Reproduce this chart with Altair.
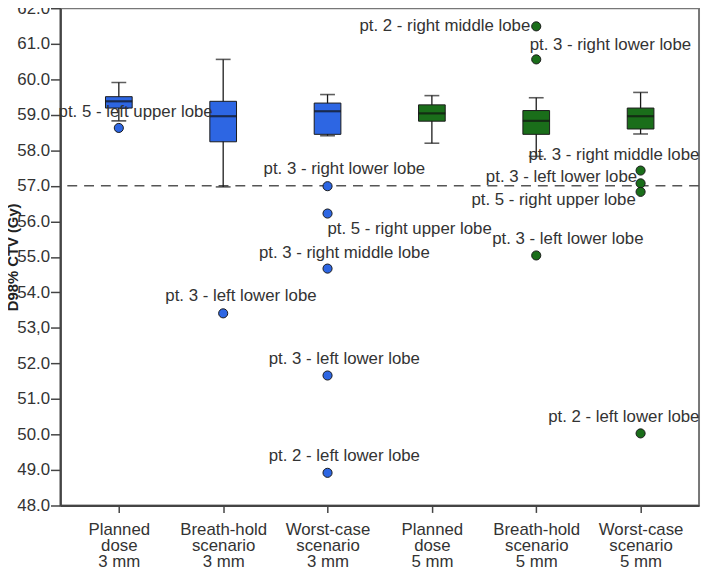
import altair as alt
import pandas as pd

# ---- data ----
categories = ["Planned\ndose\n3 mm", "Breath-hold\nscenario\n3 mm", "Worst-case\nscenario\n3 mm",
              "Planned\ndose\n5 mm", "Breath-hold\nscenario\n5 mm", "Worst-case\nscenario\n5 mm"]
margins = ["3 mm", "3 mm", "3 mm", "5 mm", "5 mm", "5 mm"]
whisker_low = [58.83, 56.97, 58.41, 58.20, 57.83, 58.46]
q1 = [59.19, 58.24, 58.45, 58.82, 58.45, 58.60]
median = [59.38, 58.96, 59.10, 59.04, 58.83, 58.96]
q3 = [59.51, 59.38, 59.33, 59.28, 59.12, 59.19]
whisker_high = [59.91, 60.56, 59.57, 59.54, 59.48, 59.63]

outlier_cat = [0, 1, 2, 2, 2, 2, 2, 4, 4, 4, 5, 5, 5, 5]
outlier_val = [58.63, 53.41, 56.99, 56.22, 54.67, 51.66, 48.92,
               61.49, 60.56, 55.04, 57.43, 57.07, 56.83, 50.03]
outlier_lab = ["pt. 5 - left upper lobe", "pt. 3 - left lower lobe",
               "pt. 3 - right lower lobe", "pt. 5 - right upper lobe", "pt. 3 - right middle lobe",
               "pt. 3 - left lower lobe", "pt. 2 - left lower lobe",
               "pt. 2 - right middle lobe", "pt. 3 - right lower lobe", "pt. 3 - left lower lobe",
               "pt. 3 - right middle lobe", "pt. 3 - left lower lobe", "pt. 5 - right upper lobe",
               "pt. 2 - left lower lobe"]

reference_line = [57.0]
y_ticks = [48, 49, 50, 51, 52, 53, 54, 55, 56, 57, 58, 59, 60, 61, 62]

# label placement (style only: pixel offsets from each point)
label_dx = [17, 18, 17, 83, 17, 17, 17, -6, 75, 32, -27, -80, -88, -17]
label_dy = [-16, -17, -17, 16, -16, -17, -17, 0, -15, -17, -16, -6, 8, -17]
label_align = ["center"] * 7 + ["right"] + ["center"] * 6

BLUE = "#2d66e3"
GREEN = "#1a6e1a"
FONT = "Liberation Sans"
FS = 17

boxes = pd.DataFrame({"cat": categories, "margin": margins, "lo": whisker_low, "q1": q1,
                      "med": median, "q3": q3, "hi": whisker_high})
outs = pd.DataFrame({"cat": [categories[i] for i in outlier_cat],
                     "margin": [margins[i] for i in outlier_cat],
                     "val": outlier_val, "lab": outlier_lab})

x_enc = alt.X("cat:N", sort=categories,
              scale=alt.Scale(type="point", padding=0.56),
              axis=alt.Axis(title=None, labelAngle=0, labelExpr="split(datum.label, '\\n')",
                            labelLineHeight=16.5, labelPadding=9, tickSize=7,
                            labelBaseline="top", labelOverlap=False))
y_scale = alt.Scale(domain=[48, 62], nice=False, zero=False)
y_axis = alt.Axis(title="D98% CTV (Gy)", values=y_ticks, tickCount=40, labelOverlap=False,
                  labelFlush=False,
                  labelExpr="datum.value == 53 ? '53,0' : format(datum.value, '.1f')",
                  tickSize=10, labelPadding=1, titleFontWeight="bold", titleFontSize=15,
                  titleX=-48, titleBaseline="middle")


def Y(field):
    return alt.Y(field, scale=y_scale, axis=y_axis)


color_enc = alt.Color("margin:N", scale=alt.Scale(domain=["3 mm", "5 mm"], range=[BLUE, GREEN]),
                      legend=None)

base_box = alt.Chart(boxes)

ref = alt.Chart(pd.DataFrame({"v": reference_line})).mark_rule(
    color="#555555", strokeWidth=1.5, strokeDash=[10, 7]).encode(y=Y("v:Q"))

whisk = base_box.mark_rule(color="#1a1a1a", strokeWidth=1.3).encode(
    x=x_enc, y=Y("lo:Q"), y2="hi:Q")
cap_lo = base_box.mark_tick(size=15, thickness=1.6, color="#1a1a1a").encode(x=x_enc, y=Y("lo:Q"))
cap_hi = base_box.mark_tick(size=15, thickness=1.6, color="#1a1a1a").encode(x=x_enc, y=Y("hi:Q"))
box = base_box.mark_bar(size=27, stroke="#1a1a1a", strokeWidth=1).encode(
    x=x_enc, y=Y("q1:Q"), y2="q3:Q", color=color_enc)
med = base_box.mark_tick(size=27, thickness=2.2, color="#111111").encode(x=x_enc, y=Y("med:Q"))

pts = alt.Chart(outs).mark_circle(size=85, opacity=1, stroke="#1a1a1a", strokeWidth=1).encode(
    x=x_enc, y=Y("val:Q"), color=color_enc)

label_layers = []
for i in range(len(outlier_lab)):
    d = outs.iloc[[i]]
    label_layers.append(
        alt.Chart(d).mark_text(dx=label_dx[i], dy=label_dy[i], align=label_align[i],
                               baseline="middle", font=FONT, fontSize=FS, color="#333333")
        .encode(x=x_enc, y=Y("val:Q"), text="lab:N"))

chart = alt.layer(ref, whisk, cap_lo, cap_hi, box, med, pts, *label_layers).properties(
    width=646, height=503,
    autosize=alt.AutoSizeParams(type="none"),
    padding={"left": 53, "top": -3, "right": 2, "bottom": 62},
).configure_view(stroke="#777777", strokeWidth=2).configure_axis(
    labelFont=FONT, titleFont=FONT, labelFontSize=FS, labelColor="#333333", titleColor="#222222",
    domainColor="#444444", domainWidth=2, tickColor="#444444", tickWidth=1.5, grid=False
)

chart.save("out.html", embed_options={"renderer": "svg", "actions": False})
